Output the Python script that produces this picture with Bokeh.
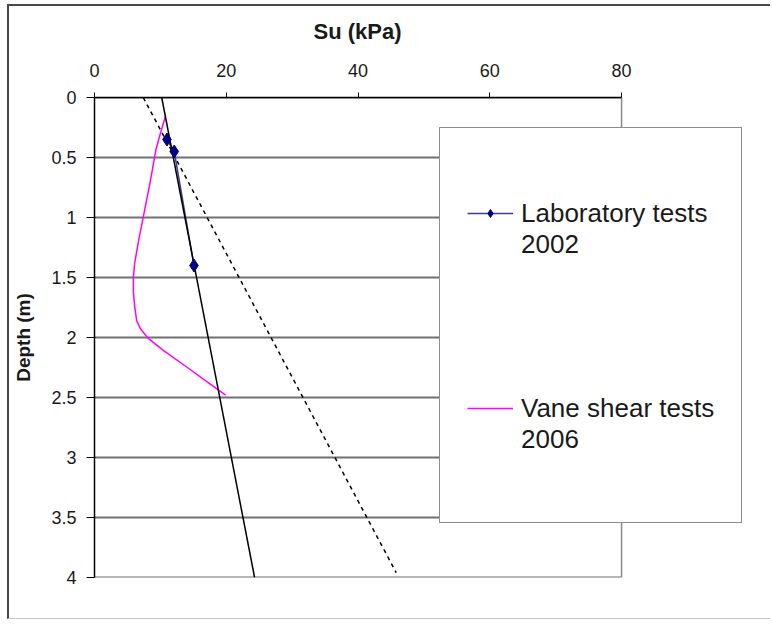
from bokeh.plotting import figure
from bokeh.models import Range1d, FixedTicker, NumeralTickFormatter, Legend, LegendItem, Title
from bokeh.embed import file_html
from bokeh.resources import INLINE

# ---- data ----
lab_su = [11.0, 12.1, 15.1]
lab_depth = [0.35, 0.45, 1.40]

vane_su = [10.8, 10.0, 9.3, 8.5, 7.5, 6.7, 6.1, 5.9, 5.9, 6.1, 6.4, 7.0, 8.2, 10.5, 14.1, 17.1, 19.9]
vane_depth = [0.15, 0.30, 0.44, 0.69, 0.97, 1.19, 1.38, 1.50, 1.62, 1.74, 1.86, 1.93, 2.01, 2.11, 2.25, 2.37, 2.48]

trend_su = [10.2, 24.3]
trend_depth = [0.0, 4.0]

upper_su = [7.4, 45.8]
upper_depth = [0.0, 3.96]

x_ticks = [0, 20, 40, 60, 80]
y_ticks = [0, 0.5, 1, 1.5, 2, 2.5, 3, 3.5, 4]

FONT = "Liberation Sans"
TXT = "#1a1a1a"

x_min, x_max = x_ticks[0], x_ticks[-1]
y_min, y_max = y_ticks[0], y_ticks[-1]

# the frame is widened to the right so the legend (which overlaps the plot
# edge in the reference) is not clipped; the visible plot area stops at 80
p = figure(width=763, height=615, output_backend="svg", toolbar_location=None,
           x_range=Range1d(x_min, 102), y_range=Range1d(y_max, y_min),
           x_axis_location="above",
           min_border_left=85, min_border_top=91, min_border_right=6, min_border_bottom=44,
           styles={"border-left": "2px solid #484848", "border-top": "2px solid #484848",
                   "border-bottom": "1px solid #c8c8c8",
                   "margin-left": "7px", "margin-top": "4px"})

p.title = Title(text="Su (kPa)", align="left", offset=219, standoff=14,
                text_font=FONT, text_font_size="22px", text_font_style="bold",
                text_color=TXT)

p.background_fill_color = "white"
p.border_fill_color = "white"
p.outline_line_color = None
p.xgrid.grid_line_color = None
p.ygrid.grid_line_color = None

# horizontal gridlines and right edge of the plot area, limited to 0..80
n = len(y_ticks)
p.segment(x0=[x_min] * n, y0=y_ticks, x1=[x_max] * n, y1=y_ticks,
          line_color="#707070", line_width=2)
p.segment(x0=[x_max], y0=[y_min], x1=[x_max], y1=[y_max],
          line_color="#8a8a8a", line_width=1.5)

# axes
xa = p.xaxis[0]
xa.ticker = FixedTicker(ticks=x_ticks)
xa.bounds = (x_min, x_max)
xa.axis_label = " "                 # blank spacer: lifts the title a little
xa.axis_label_text_font_size = "2px"
xa.axis_label_standoff = 5
xa.major_label_text_font = FONT
xa.major_label_text_font_size = "18px"
xa.major_label_text_color = TXT
xa.major_label_standoff = 16
xa.major_tick_out = 5
xa.major_tick_in = 0
xa.minor_tick_out = 0
xa.minor_tick_in = 0
xa.axis_line_color = "black"
xa.axis_line_width = 1.5
xa.major_tick_line_color = "black"

ya = p.yaxis[0]
ya.ticker = FixedTicker(ticks=y_ticks)
ya.formatter = NumeralTickFormatter(format="0.[0]")
ya.axis_label = "Depth (m)"
ya.axis_label_text_font = FONT
ya.axis_label_text_font_style = "bold"
ya.axis_label_text_font_size = "19px"
ya.axis_label_text_color = TXT
ya.axis_label_standoff = 14
ya.major_label_text_font = FONT
ya.major_label_text_font_size = "18px"
ya.major_label_text_color = TXT
ya.major_label_standoff = 10
ya.major_tick_out = 8
ya.major_tick_in = 0
ya.minor_tick_out = 0
ya.minor_tick_in = 0
ya.axis_line_color = "black"
ya.axis_line_width = 1.5
ya.major_tick_line_color = "black"

# series
p.line(upper_su, upper_depth, line_color="black", line_width=1.5, line_dash="4 4")
vane = p.line(vane_su, vane_depth, line_color="#ff00ff", line_width=1.5)
lab_line = p.line(lab_su, lab_depth, line_color="#3c3c9a", line_width=1.5)
p.line(trend_su, trend_depth, line_color="black", line_width=1.5)
lab_pts = p.scatter(lab_su, lab_depth, marker="diamond", size=13,
                    fill_color="#000080", line_color="#000080")

legend = Legend(items=[
    LegendItem(label="\nLaboratory tests\n2002", renderers=[lab_line, lab_pts]),
    LegendItem(label="\nVane shear tests\n2006", renderers=[vane]),
], location=(345, 54))
legend.title = " "
legend.title_location = "below"
legend.title_text_font_size = "12px"
legend.title_standoff = 15
legend.border_line_color = TXT
legend.border_line_width = 1.5
legend.background_fill_color = "white"
legend.background_fill_alpha = 1
legend.padding = 27
legend.spacing = 79
legend.label_height = 116
legend.glyph_width = 46
legend.glyph_height = 20
legend.label_standoff = 8
legend.label_text_font = FONT
legend.label_text_font_size = "26px"
legend.label_text_color = TXT
legend.margin = 0
p.add_layout(legend)

open("out.html", "w").write(file_html(p, INLINE))
